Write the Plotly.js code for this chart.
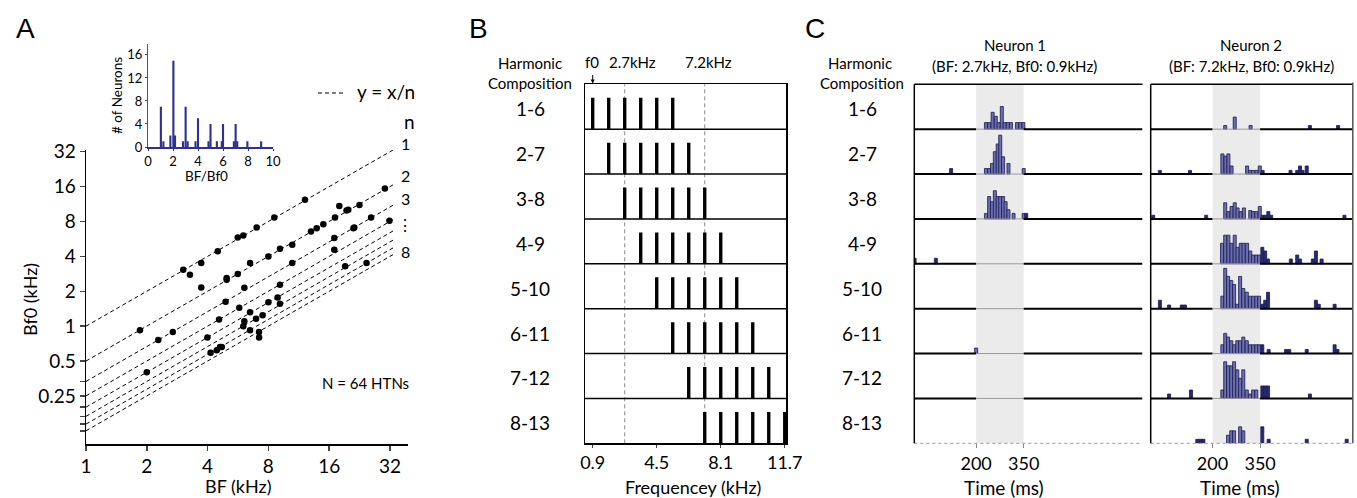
<!DOCTYPE html>
<html><head><meta charset="utf-8">
<script src="https://cdn.plot.ly/plotly-3.0.1.min.js"></script>
<style>html,body{margin:0;padding:0;background:#fff}#chart{width:1357px;height:498px}</style>
</head><body><div id="chart"></div>
<script>
// ---------- Panel A: scatter of BF vs Bf0 ----------
const bf  = [3.03,3.27,3.72,3.72,4.49,5.64,6.01,7.0,8.56,12.14,
             30.2,22.6,17.96,19.5,19.9,17.1,14.97,13.87,13.0,10.5,9.13,8.0,6.49,5.64,4.97,4.97,
             31.8,25.8,21.3,21.1,16.96,16.96,19.2,24.5,10.5,9.13,9.13,8.89,8.0,7.49,6.95,6.49,
             6.08,5.74,6.08,6.01,6.49,7.19,7.2,4.91,4.56,3.99,2.69,2.28,1.85,2.0,4.14,4.44,4.61,4.70];
const bf0 = [3.07,2.78,3.5,2.16,4.42,5.83,6.06,7.1,8.66,12.3,
             15.4,11.1,10.9,9.95,10.1,8.66,7.59,7.01,6.56,5.04,4.66,4.0,3.5,2.82,2.6,2.52,
             8.1,8.66,7.1,7.0,5.75,4.56,3.28,3.5,3.5,2.28,1.56,1.77,1.61,1.24,1.16,1.32,
             2.14,1.44,1.1,1.0,0.92,0.89,0.80,1.62,1.14,0.80,0.89,0.76,0.92,0.40,0.59,0.62,0.66,0.66];
const nValues = [1,2,3,4,5,6,7,8];
const lineBF = [1, 34];
const aXTicks = [1,2,4,8,16,32];
const aYTicks = [0.25,0.5,1,2,4,8,16,32];
const aYTickText = ['0.25','0.5','1','2','4','8','16','32'];

// ---------- Inset: histogram of BF/Bf0 ----------
const ratioBins   = [1.03,1.23,1.79,2.03,2.16,2.8,3.01,3.17,3.8,4.0,4.84,5.0,5.51,5.9,6.0,6.87,7.01,7.14,7.95,9.05];
const ratioCounts = [7,1,2,15,2,1,7,1,1,5,1,4,1,1,4,1,4,1,1,1];
const insetXTicks = [0,2,4,6,8,10];
const insetYTicks = [0,4,8,12,16];

// ---------- Panel B: harmonic compositions ----------
const compositions = ['1-6','2-7','3-8','4-9','5-10','6-11','7-12','8-13'];
const f0kHz = 0.9;
const refFreqs = [2.7, 7.2];
const refLabels = ['2.7kHz','7.2kHz'];
const freqTicks = [0.9, 4.5, 8.1, 11.7];
const freqTickText = ['0.9','4.5','8.1','11.7'];

// ---------- Panel C: PSTHs (time in ms, count per 10 ms bin) ----------
const n1Times = [
  [231,241,252,262,271,281,290,300,310,329,339,349],
  [121,231,241,250,259,268,276,285,302,350],
  [231,241,250,259,268,276,285,293,302,318,350,358],
  [6,73],
  [],
  [200],
  [],
  []
];
const n1Counts = [
  [1.8,1.8,4.6,3.5,1.8,6.2,1.8,1.8,1.8,1.8,1.8,1.8],
  [1.5,1.5,1.5,2.9,6.1,8.2,10.6,4.7,2.9,1.5],
  [1.5,6.1,4.7,7.7,6.1,6.1,6.1,4.7,2.5,1.5,1.5,1.5],
  [1.5,1.5],
  [],
  [1.5],
  [],
  []
];
const n2Times = [
  [240,270,320,507,596],
  [34,129,231,241,250,260,309,319,328,339,349,358,446,467,476,484,497],
  [13,180,240,250,260,270,279,289,299,319,328,338,349,358,367,376,385,616],
  [230,240,250,260,270,279,289,298,309,319,328,338,347,357,366,375,447,467,476,516,526,544],
  [34,63,103,113,231,240,249,259,268,278,287,297,308,318,328,338,347,357,366,375,526,535,585],
  [231,240,249,259,268,278,287,297,308,318,328,338,347,357,377,432,442,497,585,594],
  [63,132,231,240,249,259,268,278,287,297,308,318,328,338,357,366,375,507],
  [152,162,171,249,259,268,287,297,357,377,497,623]
];
const n2Counts = [
  [1,3.3,1,1,1],
  [1,1,5.5,4.9,5.5,2.2,2.2,1,1,1,2.2,1,1,1,2.2,1,2.2],
  [1,1,4.4,2,3.4,4.4,3,2,3,2.3,2,2,3.4,1,1,2,1,1],
  [5.6,7.8,7.8,5.6,7.8,4.5,5.6,5.6,5.6,3.5,2.4,2.4,2.4,4.5,3.5,1.3,1.3,2.4,1.3,1.3,3.5,1.3],
  [2.3,1,1,1,3.4,11,8.8,7.7,6.6,1.2,8.8,5.5,4.5,3.4,3.4,3.4,3.4,1.2,2.3,4.5,2.3,1.2,1.2],
  [2.4,5.5,4.5,3.5,2.4,3.5,3.5,4.5,3.5,2.4,2.4,2.4,2.4,2.4,1.1,1.1,1.1,1.1,2.4,1.1],
  [1.2,2.3,2.3,10,8.9,8.9,10,7.8,5.5,7.8,2.3,1.2,2.3,2.3,3.4,3.4,3.4,1.2],
  [1.1,1.1,1.1,2.2,3.4,3.4,4.5,3.4,4.5,1.1,1.1,1.1]
];
const stimWindow = [200, 350];
const timeTicks = [200, 350];
const neuronTitles = ['Neuron 1','Neuron 2'];
const neuronSubtitles = ['(BF: 2.7kHz, Bf0: 0.9kHz)','(BF: 7.2kHz, Bf0: 0.9kHz)'];

// ---------- geometry helpers ----------
const W = 1357, H = 498;
const X = px => px / W;
const Y = py => 1 - py / H;
const FONT = 'Lato, "Open Sans", sans-serif';
const NAVY = '#2e3192';
const ROWS = 8;
const ROWU = 12.24;          // PSTH row height in count units
const rowTop = 84.3, rowBot = 443.3, rowH = (rowBot - rowTop) / ROWS;
const PXMS = 0.3171;         // pixels per ms in panel C
const T0 = 5;                // time at left edge of each PSTH panel
const cDomains = [[914.3, 1142.5], [1150.7, 1352.8]];
const cRanges = cDomains.map(d => [T0, T0 + (d[1] - d[0]) / PXMS]);

const traces = [];

// Panel A dashed lines y = x/n
nValues.forEach(n => {
  traces.push({type:'scatter', mode:'lines', x: lineBF, y: lineBF.map(v => v / n),
    xaxis:'x', yaxis:'y', line:{color:'#000', width:1, dash:'4px,3px'}, hoverinfo:'skip'});
});
traces.push({type:'scatter', mode:'markers', x: bf, y: bf0, xaxis:'x', yaxis:'y',
  marker:{color:'#000', size:6.5}});

// Inset histogram
traces.push({type:'bar', x: ratioBins, y: ratioCounts, xaxis:'x2', yaxis:'y2',
  width: 0.17, marker:{color: NAVY, line:{width:0}}});

// Panel B harmonic bars
const hx = [], hy = [], hb = [];
compositions.forEach((c, i) => {
  const [lo, hi] = c.split('-').map(Number);
  for (let h = lo; h <= hi; h++) {
    hx.push(+(h * f0kHz).toFixed(2));
    hy.push(0.7);
    hb.push(ROWS - 1 - i);
  }
});
traces.push({type:'bar', x: hx, y: hy, base: hb, xaxis:'x3', yaxis:'y3',
  width: 0.19, marker:{color:'#000', line:{width:0}}});

// Panel C PSTH bars
function psth(times, counts, xa, ya) {
  const x = [], y = [], b = [], fc = [];
  times.forEach((row, i) => {
    row.forEach((t, j) => {
      x.push(t); y.push(counts[i][j]); b.push((ROWS - 1 - i) * ROWU);
      fc.push(t >= stimWindow[0] && t <= stimWindow[1] + 5 ? '#6a6eae' : '#272a72');
    });
  });
  return {type:'bar', x, y, base: b, xaxis: xa, yaxis: ya, width: 9.6,
    marker:{color: fc, line:{color:'#1c1c50', width:0.8}}};
}
traces.push(psth(n1Times, n1Counts, 'x4', 'y4'));
traces.push(psth(n2Times, n2Counts, 'x5', 'y5'));

// ---------- shapes ----------
const shapes = [];
// legend dash
shapes.push({type:'line', xref:'paper', yref:'paper', x0:X(318), x1:X(344), y0:Y(93), y1:Y(93),
  line:{color:'#000', width:1, dash:'4px,3px'}});
// Panel B row separators
for (let i = 1; i < ROWS; i++) {
  shapes.push({type:'line', xref:'x3 domain', yref:'y3', x0:0, x1:1, y0:i, y1:i,
    line:{color:'#000', width:1.5}});
}
// Panel B reference dashed lines
refFreqs.forEach(f => shapes.push({type:'line', xref:'x3', yref:'y3 domain', x0:f, x1:f, y0:0, y1:1,
  layer:'below', line:{color:'#8a8a8a', width:1, dash:'4px,3px'}}));
// Panel C
['x4','x5'].forEach((xa, k) => {
  const ya = k === 0 ? 'y4' : 'y5';
  const r = cRanges[k];
  shapes.push({type:'rect', xref: xa, yref: ya + ' domain', x0: stimWindow[0], x1: stimWindow[1], y0:0, y1:1,
    layer:'below', fillcolor:'#ebebeb', line:{width:0}});
  for (let i = 1; i < ROWS; i++) {
    const yv = i * ROWU;
    shapes.push({type:'line', xref: xa, yref: ya, x0: r[0], x1: stimWindow[0], y0:yv, y1:yv, line:{color:'#000', width:2}});
    shapes.push({type:'line', xref: xa, yref: ya, x0: stimWindow[0], x1: stimWindow[1], y0:yv, y1:yv, line:{color:'#9a9a9a', width:1}});
    shapes.push({type:'line', xref: xa, yref: ya, x0: stimWindow[1], x1: r[1], y0:yv, y1:yv, line:{color:'#000', width:2}});
  }
  shapes.push({type:'line', xref: xa + ' domain', yref: ya + ' domain', x0:0, x1:1, y0:1, y1:1, line:{color:'#000', width:1.5}});
  shapes.push({type:'line', xref: xa + ' domain', yref: ya + ' domain', x0:0, x1:1, y0:0, y1:0, line:{color:'#999', width:1, dash:'dot'}});
  shapes.push({type:'line', xref: xa + ' domain', yref: ya + ' domain', x0:0, x1:0, y0:0, y1:1, line:{color:'#000', width:1.5}});
  if (k === 1) shapes.push({type:'line', xref: xa + ' domain', yref: ya + ' domain', x0:1, x1:1, y0:0, y1:1.005, line:{color:'#555', width:1.5}});
});

// ---------- annotations ----------
const ann = [];
function T(text, px, py, size, extra) {
  ann.push(Object.assign({text, xref:'paper', yref:'paper', x:X(px), y:Y(py), showarrow:false,
    xanchor:'center', yanchor:'middle', font:{size, family: FONT, color:'#000'}}, extra || {}));
}
const LETTER = {family:'"Liberation Sans", Arial, sans-serif', color:'#000', size:28};
T('A', 25, 28, 28, {font: LETTER});
T('B', 478, 28, 28, {font: LETTER});
T('C', 815, 28, 28, {font: LETTER});
T('y = x/n', 386, 92, 19);
T('n', 409, 121, 19);
[['1',143],['2',176],['3',198],['\u22EE',224],['8',252]].forEach(([t, py]) => T(t, 405, py, 16));
T('N = 64 HTNs', 365, 383, 15);
T('Bf0 (kHz)', 30, 300, 18, {textangle:-90});
T('BF (kHz)', 238, 486, 18);
T('# of Neurons', 117, 96, 13.5, {textangle:-90});
T('BF/Bf0', 206, 176, 13.5);
// Panel B
T('Harmonic', 530, 63, 15);
T('Composition', 530, 83, 15);
T('f0', 592, 62, 15);
refLabels.forEach((l, i) => ann.push({text:l, xref:'x3', yref:'paper', x: refFreqs[i] + (i===0?0.45:0.2), y:Y(62),
  showarrow:false, xanchor:'center', yanchor:'middle', font:{size:15, family:FONT, color:'#000'}}));
ann.push({text:'', xref:'x3', yref:'paper', x: f0kHz, y: Y(83.5), showarrow:true, ax:0, ay:-10,
  arrowhead:2, arrowsize:0.8, arrowwidth:1, arrowcolor:'#000'});
compositions.forEach((c, i) => {
  const py = rowTop + (i + 0.5) * rowH + 2;
  T(c, 530, py, 19);
  T(c, 862, py, 19);
});
T('Frequencey (kHz)', 693, 487, 18);
// Panel C
T('Harmonic', 860, 63, 15);
T('Composition', 862, 83, 15);
[[1015, 0], [1251, 1]].forEach(([cx, k]) => {
  T(neuronTitles[k], cx, 45, 15);
  T(neuronSubtitles[k], cx, 66, 15);
});
T('Time (ms)', 1004, 487, 19);
T('Time (ms)', 1240, 487, 19);

// ---------- axes ----------
const yMinor = nValues.filter(n => n > 2 && n !== 4).map(n => 1 / n);
const layout = {
  width: W, height: H, margin:{l:0, r:0, t:0, b:0},
  paper_bgcolor:'#fff', plot_bgcolor:'rgba(0,0,0,0)',
  showlegend:false, barmode:'overlay',
  font:{family: FONT, color:'#000'},
  xaxis:{type:'log', domain:[X(86), X(408)], range:[0, Math.log10(39.3)], anchor:'y',
    showline:true, linecolor:'#000', linewidth:1.5, ticks:'outside', ticklen:5, tickwidth:1.5,
    tickvals: aXTicks, ticktext: aXTicks.map(String), tickfont:{size:19}, showgrid:false, zeroline:false},
  yaxis:{type:'log', domain:[Y(444), Y(150)], range:[-1.017, 1.520], anchor:'x',
    showline:true, linecolor:'#000', linewidth:1.5, ticks:'outside', ticklen:5, tickwidth:1.5,
    tickvals: aYTicks.concat(yMinor), ticktext: aYTickText.concat(yMinor.map(() => '')),
    tickfont:{size:19}, showgrid:false, zeroline:false},
  xaxis2:{domain:[X(148), X(273)], range:[0, 10], anchor:'y2', showline:true, linecolor: NAVY, linewidth:1.5,
    ticks:'outside', ticklen:2, tickcolor: NAVY, tickvals: insetXTicks, tickfont:{size:13}, showgrid:false, zeroline:false},
  yaxis2:{domain:[Y(147), Y(44)], range:[0, 17.9], anchor:'x2', showline:true, linecolor:'#555', linewidth:1,
    ticks:'outside', ticklen:2, tickvals: insetYTicks, tickfont:{size:13}, showgrid:false, zeroline:false},
  xaxis3:{domain:[X(585), X(786)], range:[0.467, 11.77], anchor:'y3', showline:true, mirror:true,
    linecolor:'#000', linewidth:1.5, ticks:'outside', ticklen:3, tickvals: freqTicks, ticktext: freqTickText,
    tickfont:{size:18}, showgrid:false, zeroline:false},
  yaxis3:{domain:[Y(rowBot), Y(rowTop)], range:[0, ROWS], anchor:'x3', showline:true, mirror:true,
    linecolor:'#000', linewidth:1.5, ticks:'', showticklabels:false, showgrid:false, zeroline:false},
  xaxis4:{domain:[X(cDomains[0][0]), X(cDomains[0][1])], range: cRanges[0], anchor:'y4', showline:false,
    ticks:'outside', ticklen:4, tickcolor:'#888', tickvals: timeTicks, tickfont:{size:18}, showgrid:false, zeroline:false},
  yaxis4:{domain:[Y(rowBot), Y(rowTop)], range:[0, ROWS * ROWU], anchor:'x4', visible:false},
  xaxis5:{domain:[X(cDomains[1][0]), X(cDomains[1][1])], range: cRanges[1], anchor:'y5', showline:false,
    ticks:'outside', ticklen:4, tickcolor:'#888', tickvals: timeTicks, tickfont:{size:18}, showgrid:false, zeroline:false},
  yaxis5:{domain:[Y(rowBot), Y(rowTop)], range:[0, ROWS * ROWU], anchor:'x5', visible:false},
  shapes, annotations: ann
};
Plotly.newPlot('chart', traces, layout, {staticPlot:true, displayModeBar:false});
</script></body></html>
